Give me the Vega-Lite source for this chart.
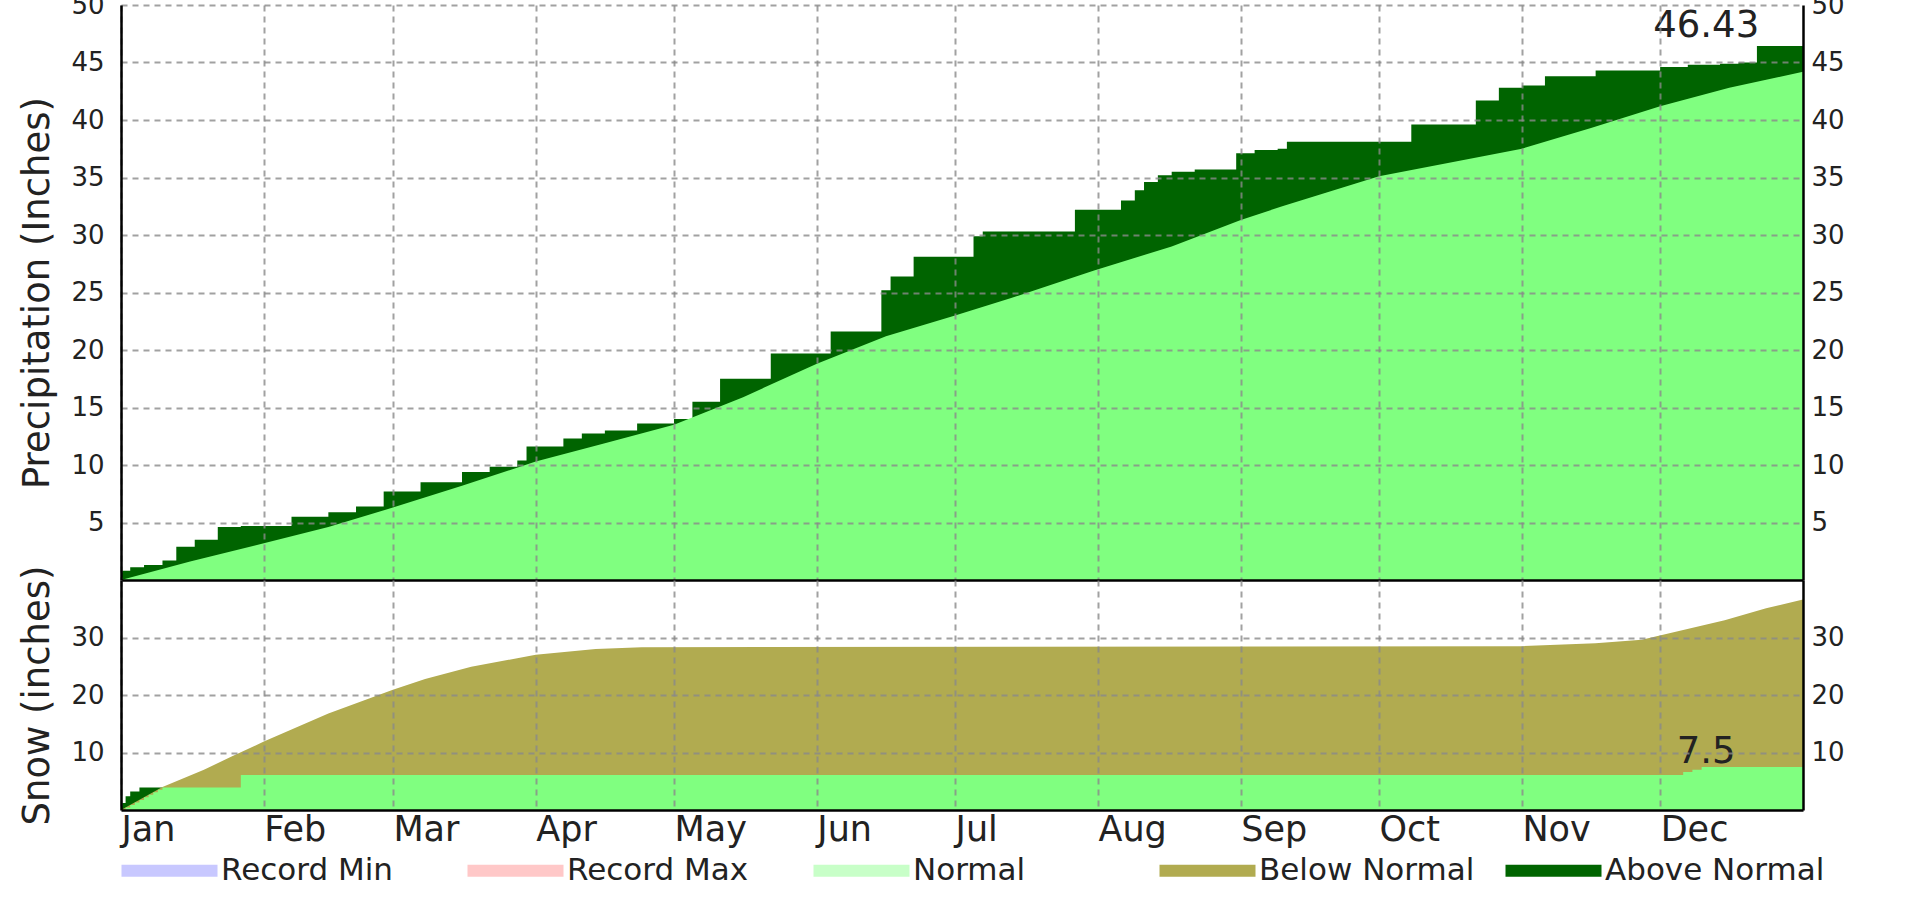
{
  "$schema": "https://vega.github.io/schema/vega-lite/v6.json",
  "background": "white",
  "padding": {"left": 18, "top": -8, "right": 0, "bottom": 0},
  "spacing": 0,
  "bounds": "flush",
  "datasets": {
    "pobs": [
      {"date": "2013-01-01", "inches": 0.8}, {"date": "2013-01-03", "inches": 1.1}, {"date": "2013-01-06", "inches": 1.3},
      {"date": "2013-01-10", "inches": 1.7}, {"date": "2013-01-13", "inches": 2.9}, {"date": "2013-01-17", "inches": 3.5},
      {"date": "2013-01-22", "inches": 4.6}, {"date": "2013-01-27", "inches": 4.7}, {"date": "2013-02-07", "inches": 5.5},
      {"date": "2013-02-15", "inches": 5.9}, {"date": "2013-02-21", "inches": 6.4}, {"date": "2013-02-27", "inches": 7.7},
      {"date": "2013-03-07", "inches": 8.5}, {"date": "2013-03-16", "inches": 9.4}, {"date": "2013-03-22", "inches": 9.85},
      {"date": "2013-03-28", "inches": 10.4}, {"date": "2013-03-30", "inches": 11.6}, {"date": "2013-04-07", "inches": 12.3},
      {"date": "2013-04-11", "inches": 12.75}, {"date": "2013-04-16", "inches": 13.0}, {"date": "2013-04-23", "inches": 13.6},
      {"date": "2013-05-01", "inches": 14.0}, {"date": "2013-05-05", "inches": 15.5}, {"date": "2013-05-11", "inches": 17.5},
      {"date": "2013-05-22", "inches": 19.7}, {"date": "2013-06-04", "inches": 21.6}, {"date": "2013-06-15", "inches": 25.2},
      {"date": "2013-06-17", "inches": 26.4}, {"date": "2013-06-22", "inches": 28.1}, {"date": "2013-07-05", "inches": 29.9},
      {"date": "2013-07-07", "inches": 30.3}, {"date": "2013-07-27", "inches": 32.2}, {"date": "2013-08-06", "inches": 33.0},
      {"date": "2013-08-09", "inches": 33.9}, {"date": "2013-08-11", "inches": 34.6}, {"date": "2013-08-14", "inches": 35.2},
      {"date": "2013-08-17", "inches": 35.5}, {"date": "2013-08-22", "inches": 35.7}, {"date": "2013-08-31", "inches": 37.1},
      {"date": "2013-09-04", "inches": 37.4}, {"date": "2013-09-09", "inches": 37.5}, {"date": "2013-09-11", "inches": 38.1},
      {"date": "2013-10-08", "inches": 39.6}, {"date": "2013-10-22", "inches": 41.7}, {"date": "2013-10-27", "inches": 42.8},
      {"date": "2013-11-01", "inches": 43.0}, {"date": "2013-11-06", "inches": 43.8}, {"date": "2013-11-17", "inches": 44.3},
      {"date": "2013-12-01", "inches": 44.6}, {"date": "2013-12-07", "inches": 44.8}, {"date": "2013-12-14", "inches": 44.9},
      {"date": "2013-12-18", "inches": 45.0}, {"date": "2013-12-22", "inches": 46.43}, {"date": "2013-12-31T23:59:00Z", "inches": 46.43}
    ],
    "pnorm": [
      {"date": "2013-01-01", "inches": 0}, {"date": "2013-01-16", "inches": 1.6}, {"date": "2013-02-01", "inches": 3.2},
      {"date": "2013-02-15", "inches": 4.6}, {"date": "2013-03-01", "inches": 6.3}, {"date": "2013-03-16", "inches": 8.2},
      {"date": "2013-04-01", "inches": 10.3}, {"date": "2013-04-16", "inches": 11.9}, {"date": "2013-05-01", "inches": 13.5},
      {"date": "2013-05-16", "inches": 15.9}, {"date": "2013-06-01", "inches": 18.8}, {"date": "2013-06-16", "inches": 21.2},
      {"date": "2013-07-01", "inches": 23.0}, {"date": "2013-07-13", "inches": 24.5}, {"date": "2013-07-31", "inches": 26.9},
      {"date": "2013-08-17", "inches": 29.0}, {"date": "2013-09-01", "inches": 31.3}, {"date": "2013-09-10", "inches": 32.5},
      {"date": "2013-10-01", "inches": 35.1}, {"date": "2013-10-23", "inches": 36.8}, {"date": "2013-11-01", "inches": 37.5},
      {"date": "2013-11-16", "inches": 39.3}, {"date": "2013-12-01", "inches": 41.2}, {"date": "2013-12-16", "inches": 42.8},
      {"date": "2013-12-31T23:59:00Z", "inches": 44.2}
    ],
    "sobs": [
      {"date": "2013-01-01", "inches": 1.2}, {"date": "2013-01-02", "inches": 2.4}, {"date": "2013-01-03", "inches": 3.2},
      {"date": "2013-01-05", "inches": 3.9}, {"date": "2013-01-27", "inches": 6.1}, {"date": "2013-12-06", "inches": 6.6},
      {"date": "2013-12-08", "inches": 7.0}, {"date": "2013-12-10", "inches": 7.5}, {"date": "2013-12-31T23:59:00Z", "inches": 7.5}
    ],
    "snorm": [
      {"date": "2013-01-01", "inches": 0}, {"date": "2013-01-10", "inches": 4.0}, {"date": "2013-01-19", "inches": 7.0},
      {"date": "2013-01-25", "inches": 9.3}, {"date": "2013-02-01", "inches": 11.9}, {"date": "2013-02-15", "inches": 16.8},
      {"date": "2013-03-01", "inches": 20.9}, {"date": "2013-03-08", "inches": 22.8}, {"date": "2013-03-18", "inches": 24.9},
      {"date": "2013-04-01", "inches": 27.0}, {"date": "2013-04-14", "inches": 28.0}, {"date": "2013-04-24", "inches": 28.3},
      {"date": "2013-11-01", "inches": 28.5}, {"date": "2013-11-17", "inches": 29.0}, {"date": "2013-11-27", "inches": 29.6},
      {"date": "2013-12-06", "inches": 31.3}, {"date": "2013-12-15", "inches": 33.0}, {"date": "2013-12-24", "inches": 35.1},
      {"date": "2013-12-31T23:59:00Z", "inches": 36.6}
    ],
    "sbase": [
      {"date": "2013-01-01", "inches": 0}, {"date": "2013-01-02", "inches": 0.44}, {"date": "2013-01-03", "inches": 0.88},
      {"date": "2013-01-04", "inches": 1.32}, {"date": "2013-01-05", "inches": 1.76}, {"date": "2013-01-06", "inches": 2.2},
      {"date": "2013-01-07", "inches": 2.64}, {"date": "2013-01-08", "inches": 3.08}, {"date": "2013-01-09", "inches": 3.52},
      {"date": "2013-01-10", "inches": 3.9}, {"date": "2013-01-27", "inches": 6.1}, {"date": "2013-12-06", "inches": 6.6},
      {"date": "2013-12-08", "inches": 7.0}, {"date": "2013-12-10", "inches": 7.5}, {"date": "2013-12-31T23:59:00Z", "inches": 7.5}
    ],
    "ptot": [{"date": "2013-12-11", "inches": 46.43, "label": "46.43"}],
    "stot": [{"date": "2013-12-11", "inches": 7.5, "label": "7.5"}],
    "cats": [{"cat": "Record Min"}, {"cat": "Record Max"}, {"cat": "Normal"}, {"cat": "Below Normal"}, {"cat": "Above Normal"}]
  },
  "vconcat": [
    {
      "width": 1682,
      "height": 575,
      "layer": [
        {
          "data": {"name": "pobs"},
          "mark": {"type": "area", "interpolate": "step-after", "color": "#006400", "opacity": 1},
          "encoding": {
            "x": {"field": "date", "type": "temporal",
                  "scale": {"type": "utc", "domain": [{"year": 2013, "month": 1, "date": 1, "utc": true}, {"year": 2013, "month": 12, "date": 31, "hours": 23, "minutes": 59, "utc": true}]},
                  "axis": {"labels": false, "title": null, "grid": true, "domain": true, "tickCount": {"interval": "month", "step": 1}, "zindex": 1}},
            "y": {"field": "inches", "type": "quantitative", "scale": {"domain": [0, 50], "nice": false},
                  "axis": {"orient": "left", "title": "Precipitation (Inches)", "values": [5, 10, 15, 20, 25, 30, 35, 40, 45, 50], "grid": true, "domain": true, "labelPadding": 17, "titlePadding": 14, "zindex": 1}}
          }
        },
        {
          "data": {"name": "pnorm"},
          "mark": {"type": "area", "color": "#80ff80", "opacity": 1},
          "encoding": {
            "x": {"field": "date", "type": "temporal"},
            "y": {"field": "inches", "type": "quantitative",
                  "axis": {"orient": "right", "title": null, "values": [5, 10, 15, 20, 25, 30, 35, 40, 45, 50], "grid": false, "domain": true, "labelPadding": 8, "zindex": 1}}
          }
        },
        {
          "data": {"name": "ptot"},
          "mark": {"type": "text", "align": "center", "baseline": "alphabetic", "dy": -9, "fontSize": 37, "font": "DejaVu Sans", "color": "#222222"},
          "encoding": {
            "x": {"field": "date", "type": "temporal"},
            "y": {"field": "inches", "type": "quantitative", "axis": null},
            "text": {"field": "label"}
          }
        }
      ],
      "resolve": {"axis": {"y": "independent"}}
    },
    {
      "width": 1682,
      "height": 230,
      "layer": [
        {
          "data": {"name": "sobs"},
          "mark": {"type": "area", "interpolate": "step-after", "color": "#006400", "opacity": 1},
          "encoding": {
            "x": {"field": "date", "type": "temporal",
                  "scale": {"type": "utc", "domain": [{"year": 2013, "month": 1, "date": 1, "utc": true}, {"year": 2013, "month": 12, "date": 31, "hours": 23, "minutes": 59, "utc": true}]},
                  "axis": {"title": null, "grid": true, "domain": true, "format": "%b", "labelAlign": "left", "labelBaseline": "top", "labelPadding": 2, "labelFlush": false, "labelOverlap": false, "tickCount": {"interval": "month", "step": 1}, "zindex": 1}},
            "y": {"field": "inches", "type": "quantitative", "scale": {"domain": [0, 40], "nice": false},
                  "axis": {"orient": "left", "title": "Snow (inches)", "values": [10, 20, 30], "grid": true, "domain": true, "labelPadding": 17, "titlePadding": 14, "zindex": 1}}
          }
        },
        {
          "data": {"name": "snorm"},
          "mark": {"type": "area", "color": "#b1ab50", "opacity": 1},
          "encoding": {
            "x": {"field": "date", "type": "temporal"},
            "y": {"field": "inches", "type": "quantitative",
                  "axis": {"orient": "right", "title": null, "values": [10, 20, 30], "grid": false, "domain": true, "labelPadding": 8, "zindex": 1}}
          }
        },
        {
          "data": {"name": "sbase"},
          "mark": {"type": "area", "interpolate": "step-after", "color": "#80ff80", "opacity": 1},
          "encoding": {
            "x": {"field": "date", "type": "temporal"},
            "y": {"field": "inches", "type": "quantitative", "axis": null}
          }
        },
        {
          "data": {"name": "stot"},
          "mark": {"type": "text", "align": "center", "baseline": "alphabetic", "dy": -4, "fontSize": 37, "font": "DejaVu Sans", "color": "#222222"},
          "encoding": {
            "x": {"field": "date", "type": "temporal"},
            "y": {"field": "inches", "type": "quantitative", "axis": null},
            "text": {"field": "label"}
          }
        },
        {
          "data": {"name": "cats"},
          "mark": {"type": "square", "opacity": 0, "size": 1},
          "encoding": {
            "color": {"field": "cat", "type": "nominal",
                      "scale": {"domain": ["Record Min", "Record Max", "Normal", "Below Normal", "Above Normal"], "range": ["#c8c8ff", "#ffc8c8", "#c8ffc8", "#b1ab50", "#006400"]},
                      "legend": {"title": null, "symbolType": "M-1,-0.4H5.4V0.4H-1Z", "symbolOpacity": 1}}
          }
        }
      ],
      "resolve": {"axis": {"y": "independent"}}
    }
  ],
  "resolve": {"scale": {"color": "independent", "x": "independent", "y": "independent"}, "legend": {"color": "independent"}},
  "config": {
    "font": "DejaVu Sans",
    "view": {"stroke": null},
    "axis": {
      "labelFont": "DejaVu Sans", "labelColor": "#222222", "titleFont": "DejaVu Sans", "titleFontWeight": "normal",
      "titleColor": "#222222", "titleFontSize": 37, "ticks": false, "domainColor": "#000000", "domainWidth": 2.5,
      "gridColor": "#8a8a8a", "gridDash": [6, 5], "gridWidth": 2, "gridOpacity": 0.8, "labelPadding": 12, "titlePadding": 12
    },
    "axisX": {"labelFontSize": 35},
    "axisY": {"labelFontSize": 26},
    "legend": {
      "orient": "bottom", "direction": "horizontal", "columns": 5, "gridAlign": "all", "columnPadding": 26,
      "symbolSize": 900, "symbolStrokeWidth": 0, "labelFont": "DejaVu Sans", "labelFontSize": 31, "labelColor": "#222222",
      "labelOffset": 69, "offset": 8, "padding": 0, "labelLimit": 400
    }
  }
}
